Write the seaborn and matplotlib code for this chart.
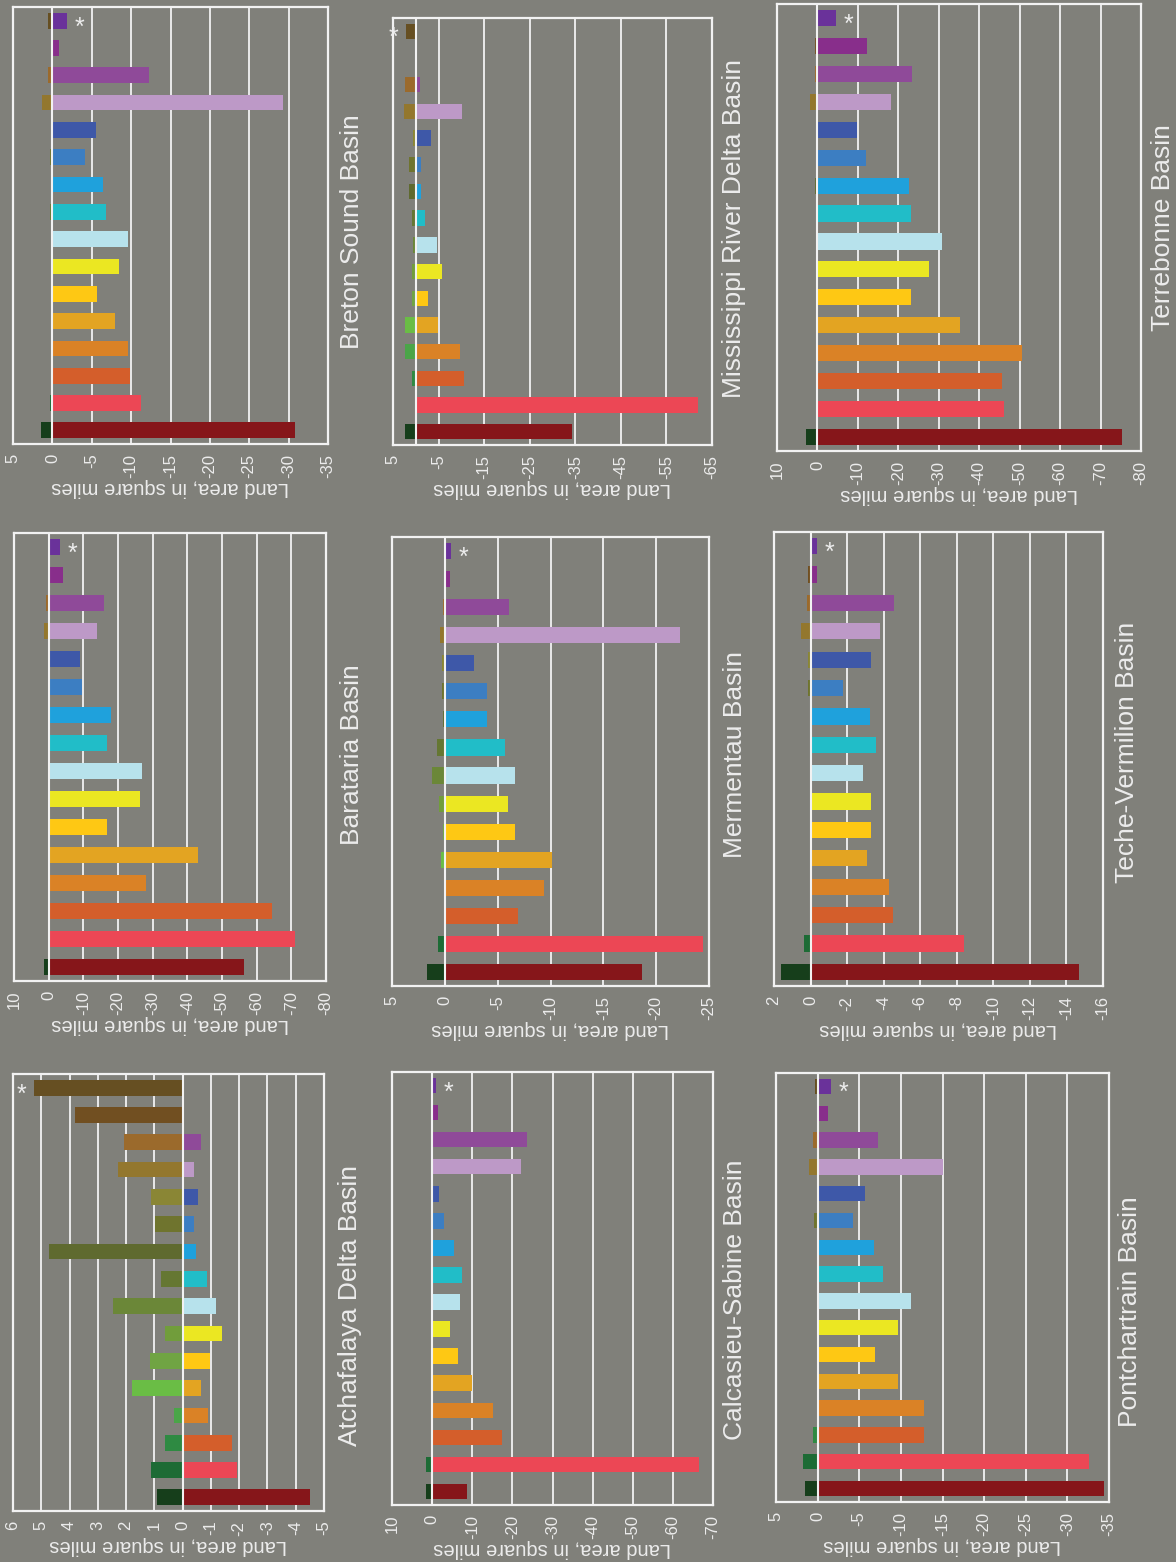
import numpy as np
import pandas as pd
import matplotlib
matplotlib.use("Agg")
import matplotlib.pyplot as plt
import seaborn as sns

# 16 time periods, oldest first (drawn bottom to top)
periods = [f"P{i:02d}" for i in range(1, 17)]

loss_colors = ["#86161a", "#ec4755", "#d45e2b", "#da8226", "#e3a422", "#fec814",
               "#ebe722", "#b7e2ec", "#21bdc8", "#1fa1dc", "#3c7ec2", "#3e58a8",
               "#bd99c7", "#8f4a99", "#882e8b", "#6a329a"]
gain_colors = ["#163e1b", "#1d6b35", "#2e8a42", "#4aa548", "#6abd45", "#70a443",
               "#719d3b", "#6b8738", "#657732", "#5f6a2f", "#6f742e", "#8a8635",
               "#93772e", "#9b6a2c", "#714f21", "#664f22"]

# land gains (+) and losses (-), square miles
breton_gain = [1.4, 0.3, 0, 0, 0, 0, 0, 0, 0.3, 0, 0.3, 0, 1.27, 0.5, 0, 0.5]
breton_loss = [-30.8, -11.25, -9.9, -9.65, -8.0, -5.7, -8.4, -9.65, -6.85, -6.4, -4.2, -5.6, -29.3, -12.3, -0.9, -1.8]
barataria_gain = [1.26, 0, 0, 0.15, 0.15, 0, 0, 0, 0, 0, 0, 0, 1.26, 0.7, 0, 0]
barataria_loss = [-56.4, -71.2, -64.3, -28.0, -43.1, -16.7, -26.3, -26.9, -16.7, -17.9, -9.5, -8.9, -13.8, -16.1, -4.25, -3.4]
atchafalaya_gain = [0.91, 1.12, 0.63, 0.32, 1.79, 1.16, 0.61, 2.47, 0.77, 4.73, 0.98, 1.11, 2.29, 2.08, 3.81, 5.27]
atchafalaya_loss = [-4.51, -1.92, -1.74, -0.90, -0.65, -0.97, -1.39, -1.18, -0.86, -0.47, -0.40, -0.54, -0.40, -0.65, 0, 0]
mrd_gain = [2.4, 0.2, 0.9, 2.3, 2.4, 0.9, 0.9, 0.6, 0.9, 1.5, 1.5, 0.6, 2.6, 2.4, 0, 2.2]
mrd_loss = [-34.3, -61.9, -10.5, -9.7, -4.8, -2.6, -5.7, -4.6, -2.0, -1.1, -1.1, -3.3, -10.1, -0.9, -0.2, 0]
mermentau_gain = [1.73, 0.6, 0.1, 0.1, 0.32, 0.2, 0.57, 1.26, 0.7, 0.2, 0.3, 0.3, 0.5, 0.2, 0.1, 0.1]
mermentau_loss = [-18.7, -24.4, -6.97, -9.34, -10.1, -6.6, -6.0, -6.6, -5.7, -4.0, -4.0, -2.8, -22.3, -6.1, -0.45, -0.55]
calcasieu_gain = [1.6, 1.6, 0, 0, 0.3, 0, 0, 0, 0, 0, 0, 0.3, 0.4, 0, 0, 0]
calcasieu_loss = [-8.6, -66.6, -17.3, -15.1, -9.9, -6.4, -4.4, -6.9, -7.4, -5.4, -2.9, -1.7, -22.1, -23.6, -1.4, -0.9]
terrebonne_gain = [2.8, 0, 0, 0, 0, 0, 0, 0, 0, 0.5, 0, 0, 1.8, 0.5, 0.5, 0]
terrebonne_loss = [-75.2, -46.2, -45.6, -50.7, -35.2, -23.1, -27.5, -30.7, -23.1, -22.6, -12.0, -9.8, -18.2, -23.4, -12.3, -4.6]
teche_gain = [1.64, 0.38, 0, 0.05, 0.05, 0.05, 0.05, 0.05, 0.05, 0.05, 0.15, 0.12, 0.55, 0.2, 0.15, 0.05]
teche_loss = [-14.67, -8.38, -4.49, -4.27, -3.07, -3.28, -3.28, -2.85, -3.56, -3.23, -1.75, -3.28, -3.78, -4.54, -0.33, -0.33]
pontchartrain_gain = [1.5, 1.7, 0.5, 0, 0, 0, 0, 0, 0, 0, 0.4, 0, 1.0, 0.5, 0, 0.35]
pontchartrain_loss = [-34.4, -32.6, -12.8, -12.8, -9.6, -6.9, -9.7, -11.2, -7.9, -6.8, -4.3, -5.7, -15.1, -7.3, -1.3, -1.6]

# axis ticks per basin
breton_ticks = list(range(5, -36, -5))
barataria_ticks = list(range(10, -81, -10))
atchafalaya_ticks = list(range(6, -6, -1))
mrd_ticks = list(range(5, -66, -10))
mermentau_ticks = list(range(5, -26, -5))
calcasieu_ticks = list(range(10, -71, -10))
terrebonne_ticks = list(range(10, -81, -10))
teche_ticks = list(range(2, -17, -2))
pontchartrain_ticks = list(range(5, -36, -5))

basins = [
    ("Breton Sound Basin", breton_gain, breton_loss, breton_ticks),
    ("Barataria Basin", barataria_gain, barataria_loss, barataria_ticks),
    ("Atchafalaya Delta Basin", atchafalaya_gain, atchafalaya_loss, atchafalaya_ticks),
    ("Mississippi River Delta Basin", mrd_gain, mrd_loss, mrd_ticks),
    ("Mermentau Basin", mermentau_gain, mermentau_loss, mermentau_ticks),
    ("Calcasieu-Sabine Basin", calcasieu_gain, calcasieu_loss, calcasieu_ticks),
    ("Terrebonne Basin", terrebonne_gain, terrebonne_loss, terrebonne_ticks),
    ("Teche-Vermilion Basin", teche_gain, teche_loss, teche_ticks),
    ("Pontchartrain Basin", pontchartrain_gain, pontchartrain_loss, pontchartrain_ticks),
]

# layout in pixels: axes box (x0, x1, ytop, ybottom) and title centre (x, y)
W, H = 1176, 1562
boxes = [
    (13, 328, 7, 444), (14, 326, 533, 981), (13, 324, 1074, 1511),
    (393, 712, 18, 445), (392, 709, 537, 986), (392, 713, 1072, 1505),
    (777, 1141, 4, 451), (774, 1103, 532, 986), (776, 1109, 1073, 1502),
]
title_pos = [
    (352, 232), (352, 755), (350, 1305),
    (734, 228), (735, 755), (735, 1300),
    (1163, 228), (1127, 752), (1130, 1312),
]

BG = "#80807a"
LIGHT = "#ececec"

sns.set_theme(style="white")
plt.rcParams["font.family"] = ["Liberation Sans Narrow", "Liberation Sans", "DejaVu Sans"]
plt.rcParams["axes.unicode_minus"] = False

fig = plt.figure(figsize=(W / 100, H / 100), dpi=100, facecolor=BG)

gain_pal = dict(zip(periods, gain_colors))
loss_pal = dict(zip(periods, loss_colors))

for (name, gain, loss, ticks), (x0, x1, yt, yb), (tx, ty) in zip(basins, boxes, title_pos):
    ax = fig.add_axes([x0 / W, 1 - yb / H, (x1 - x0) / W, (yb - yt) / H])
    ax.set_facecolor(BG)
    df = pd.DataFrame({"period": periods, "gain": gain, "loss": loss})
    sns.barplot(data=df, y="period", x="gain", hue="period", palette=gain_pal,
                orient="h", width=0.575, saturation=1, errorbar=None,
                legend=False, ax=ax, zorder=2, linewidth=0, edgecolor="none")
    sns.barplot(data=df, y="period", x="loss", hue="period", palette=loss_pal,
                orient="h", width=0.575, saturation=1, errorbar=None,
                legend=False, ax=ax, zorder=2, linewidth=0, edgecolor="none")
    ax.set_ylim(-0.5, 15.5)
    ax.set_yticks([])
    ax.set_ylabel("")
    ax.set_xlim(max(ticks), min(ticks))
    ax.set_xticks(ticks)
    ax.set_xticklabels([f"{t:g}" for t in ticks], rotation=90, color=LIGHT, fontsize=12)
    ax.tick_params(axis="x", length=0, pad=7)
    ax.set_xlabel("Land area, in square miles", rotation=180, color=LIGHT,
                  fontsize=14.5, labelpad=0)
    ax.set_axisbelow(True)
    ax.grid(axis="x", color="#f2f2f2", lw=1.3, zorder=0)
    ax.grid(axis="y", visible=False)
    ax.axvline(0, color="#f2f2f2", lw=1.5, zorder=3)
    for s in ax.spines.values():
        s.set_color("#f2f2f2")
        s.set_linewidth(1.6)

    # asterisk next to the last (longest) bar of the newest period
    g, l = gain[-1], loss[-1]
    if g > -l:
        ax.annotate("*", xy=(g, 15), xytext=(-9, -5), textcoords="offset points",
                    ha="center", va="center", color=LIGHT, fontsize=18)
    else:
        ax.annotate("*", xy=(l, 15), xytext=(9, -5), textcoords="offset points",
                    ha="center", va="center", color=LIGHT, fontsize=18)

    fig.text(tx / W, 1 - ty / H, name, rotation=90, ha="center", va="center",
             color=LIGHT, fontsize=19)

fig.savefig("out.png", dpi=100, facecolor=BG)
